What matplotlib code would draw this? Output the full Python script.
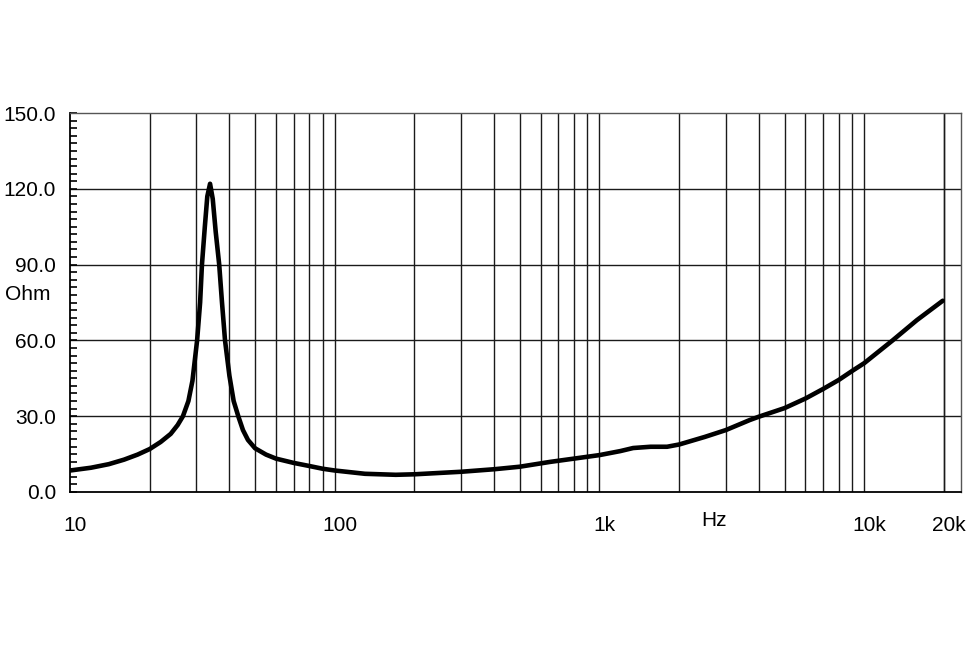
import numpy as np
import matplotlib
matplotlib.use("Agg")
import matplotlib.pyplot as plt
import matplotlib.transforms as mtransforms
from matplotlib.ticker import FixedLocator, MultipleLocator, NullFormatter

plt.rcParams['font.family'] = ['Liberation Sans', 'DejaVu Sans']

# impedance curve
freq = [10, 12, 14, 16, 18, 20, 22, 24, 25.5, 26.7, 28, 29, 30.2, 31, 31.5,
        32.3, 33.0, 33.8, 34.6, 35.5, 36.6, 37.5, 38.5, 40, 41.5, 43.2, 45,
        47, 50, 55, 60, 70, 80, 90, 100, 130, 170, 200, 300, 400, 500, 650,
        800, 1000, 1200, 1340, 1560, 1800, 2000, 2500, 3000, 3700, 4000,
        5000, 6000, 7000, 8000, 9000, 10000, 12800, 15800, 19800]
ohm = [8.5, 9.6, 11, 12.8, 14.8, 17, 19.8, 23, 26.5, 30, 36, 44, 60, 75, 90,
       105, 117, 122, 116, 103, 90, 75, 60, 46, 36, 30, 24.5,
       20.6, 17.3, 14.8, 13.2, 11.5, 10.3, 9.2, 8.5, 7.2, 6.8, 7, 8, 9, 10,
       11.9, 13.2, 14.6, 16.2, 17.4, 17.9, 17.9, 18.8, 21.8, 24.5, 28.5,
       29.8, 33.2, 37, 40.8, 44.3, 47.9, 51, 60, 68, 75.7]

x_ticks = [10, 100, 1000, 10000, 20000]
x_labels = ["10", "100", "1k", "10k", "20k"]
y_ticks = [0, 30, 60, 90, 120, 150]
y_labels = ["0.0", "30.0", "60.0", "90.0", "120.0", "150.0"]

fig = plt.figure(figsize=(9.7, 6.47), dpi=100)
ax = fig.add_axes([0.0722, 0.2396, 0.9185, 0.5857])

ax.set_xscale('log')
ax.set_xlim(10, 23200)
ax.set_ylim(0, 150)

# log grid lines
grid_f = []
for dec in [10, 100, 1000, 10000]:
    for m in range(1, 10):
        f = dec * m
        if 10 < f <= 20000:
            grid_f.append(f)
grid_f.append(20000)
for f in grid_f:
    ax.axvline(f, color='#1a1a1a', lw=1.0, zorder=1)
for y in y_ticks[1:-1]:
    ax.axhline(y, color='#1a1a1a', lw=1.0, zorder=1)

ax.plot(freq, ohm, color='black', lw=3.3, solid_joinstyle='round',
        solid_capstyle='round', zorder=3)

ax.xaxis.set_major_locator(FixedLocator(x_ticks))
ax.set_xticklabels(x_labels)
ax.xaxis.set_minor_formatter(NullFormatter())
ax.tick_params(axis='x', which='both', length=0, pad=17, labelsize=15)
offset = mtransforms.ScaledTranslation(5 / 100, 0, fig.dpi_scale_trans)
for lab in ax.get_xticklabels():
    lab.set_transform(lab.get_transform() + offset)

ax.set_yticks(y_ticks)
ax.set_yticklabels(y_labels)
ax.yaxis.set_minor_locator(MultipleLocator(3))
ax.tick_params(axis='y', which='both', direction='in', length=5, width=1.2,
               pad=10, labelsize=15)

for s in ['left', 'bottom']:
    ax.spines[s].set_linewidth(1.3)
    ax.spines[s].set_color('black')
for s in ['top', 'right']:
    ax.spines[s].set_linewidth(1.0)
    ax.spines[s].set_color('#555555')

fig.text(5 / 970, 1 - 294 / 647, "Ohm", fontsize=15, ha='left', va='center')
fig.text(714 / 970, 1 - 520 / 647, "Hz", fontsize=15, ha='center', va='center')

fig.savefig("out.png", dpi=100)
